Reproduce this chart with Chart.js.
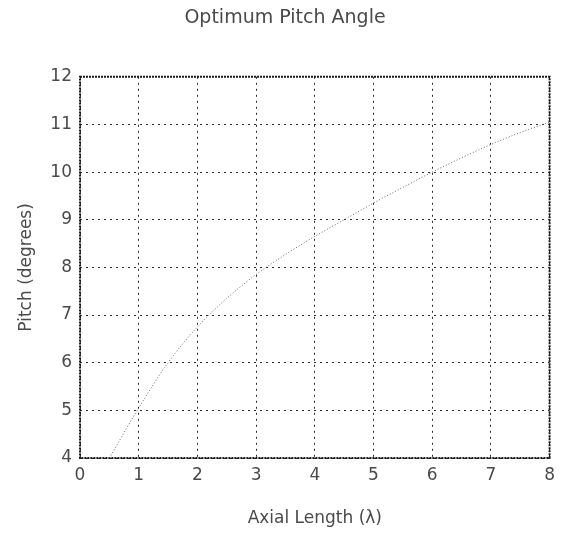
<!DOCTYPE html>
<html>
<head>
<meta charset="utf-8">
<script src="https://cdn.jsdelivr.net/npm/chart.js@4"></script>
<style>
  html, body { margin: 0; padding: 0; background: #fff; }
  #wrap { width: 562px; height: 533px; }
</style>
</head>
<body>
<div id="wrap"><canvas id="grafico" width="562" height="533"></canvas></div>
<script>
// valores
const comprimentoAxial = [0.5, 1, 1.5, 2, 2.5, 3, 3.5, 4, 4.5, 5, 5.5, 6, 6.5, 7, 7.5, 8]
const anguloPasso = [4.0, 5.05, 6.0, 6.75, 7.35, 7.85, 8.27, 8.65, 9.0, 9.35, 9.68, 10.0, 10.3, 10.58, 10.83, 11.05]

const xTicks = [0, 1, 2, 3, 4, 5, 6, 7, 8]
const yTicks = [4, 5, 6, 7, 8, 9, 10, 11, 12]

const FONTE = "'DejaVu Sans', sans-serif"
const COR_TEXTO = '#4a4a4a'
const COR_GRADE = '#2a2a2a'

const pontos = comprimentoAxial.map((x, i) => ({ x, y: anguloPasso[i] }))

new Chart(document.getElementById('grafico'), {
  type: 'scatter',
  data: {
    datasets: [
      {
        label: 'Pitch',
        data: pontos,
        showLine: true,
        borderColor: '#666',
        borderWidth: 1,
        borderDash: [1, 2],
        pointRadius: 0,
        cubicInterpolationMode: 'monotone',
      },
    ],
  },
  options: {
    responsive: false,
    animation: false,
    layout: { padding: { top: 0, right: 4, left: 12, bottom: 0 } },
    plugins: {
      legend: { display: false },
      tooltip: { enabled: false },
      title: {
        display: true,
        text: 'Optimum Pitch Angle',
        color: COR_TEXTO,
        font: { family: FONTE, size: 19, weight: 'normal' },
        padding: { top: 7, bottom: 47 },
      },
    },
    scales: {
      x: {
        type: 'linear',
        min: 0,
        max: 8,
        afterBuildTicks: (s) => { s.ticks = xTicks.map((v) => ({ value: v })) },
        afterFit: (s) => { s.height = 75 },
        ticks: { color: COR_TEXTO, font: { family: FONTE, size: 17 }, padding: 7 },
        grid: { color: COR_GRADE, lineWidth: 1, drawTicks: false },
        // no v4 o tracejado da grade vem de border.dash
        border: { display: false, dash: [2, 4] },
        title: {
          display: true,
          text: 'Axial Length (λ)',
          color: COR_TEXTO,
          font: { family: FONTE, size: 17 },
          padding: { top: 15 },
        },
      },
      y: {
        type: 'linear',
        min: 4,
        max: 12,
        afterBuildTicks: (s) => { s.ticks = yTicks.map((v) => ({ value: v })) },
        afterFit: (s) => { s.width = 68 },
        ticks: { color: COR_TEXTO, font: { family: FONTE, size: 17 }, padding: 8 },
        grid: { color: COR_GRADE, lineWidth: 1, drawTicks: false },
        border: { display: false, dash: [2, 4] },
        title: {
          display: true,
          text: 'Pitch (degrees)',
          color: COR_TEXTO,
          font: { family: FONTE, size: 17 },
        },
      },
    },
  },
  plugins: [
    {
      // moldura pontilhada densa em volta da área do gráfico
      id: 'moldura',
      beforeDatasetsDraw(chart) {
        const { ctx, chartArea: a } = chart
        ctx.save()
        ctx.strokeStyle = '#1a1a1a'
        ctx.lineWidth = 2
        ctx.setLineDash([2, 1])
        ctx.strokeRect(a.left, a.top, a.right - a.left, a.bottom - a.top)
        ctx.restore()
      },
    },
  ],
})
</script>
</body>
</html>
